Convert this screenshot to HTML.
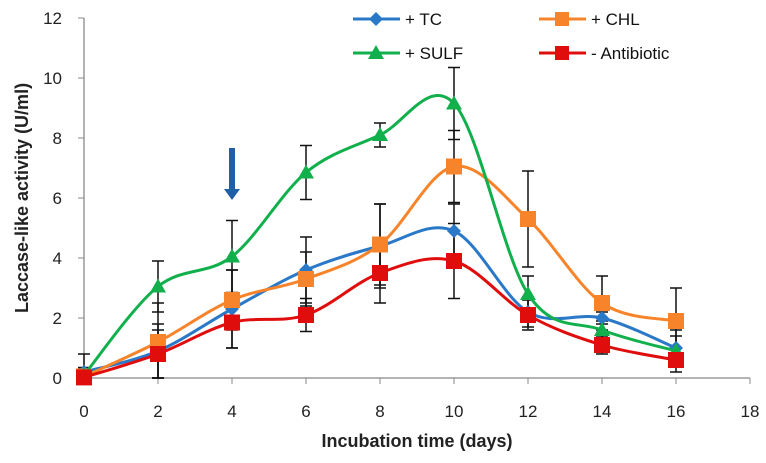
<!DOCTYPE html>
<html><head><meta charset="utf-8"><style>
body{margin:0;background:#fff;}
svg{display:block;font-family:"Liberation Sans",Arial,sans-serif;}
</style></head><body>
<svg id="c" width="766" height="463"></svg>
<script>
const days=[0,2,4,6,8,10,12,14,16];
const tc=[0.2,0.9,2.3,3.6,4.4,4.9,2.2,2.0,1.0];
const chl=[0.05,1.2,2.6,3.3,4.45,7.05,5.3,2.5,1.9];
const sulf=[0.1,3.05,4.05,6.85,8.1,9.15,2.8,1.6,0.9];
const anti=[0.02,0.8,1.85,2.1,3.5,3.9,2.1,1.1,0.6];
const tcErr=[0.6,0.9,1.3,1.1,1.4,0.9,0.5,0.2,0.6];
const chlErr=[0.3,1.3,1.0,0.9,1.35,1.2,1.6,0.9,1.1];
const sulfErr=[0.2,0.85,1.2,0.9,0.4,1.2,0.6,0.3,0.5];
const antiErr=[0.1,0.8,0.85,0.55,1.0,1.25,0.5,0.3,0.4];
const xTicks=[0,2,4,6,8,10,12,14,16,18];
const yTicks=[0,2,4,6,8,10,12];
const svg=document.getElementById('c');
const NS='http://www.w3.org/2000/svg';
const X=v=>84+v*37, Y=v=>378-v*30;
function mk(t,a,p){const e=document.createElementNS(NS,t);for(const k in a)e.setAttribute(k,a[k]);(p||svg).appendChild(e);return e;}
// axes
let ax=mk('line',{x1:X(0),y1:Y(0),x2:X(18),y2:Y(0),stroke:'#888','stroke-width':1.3});

let ay=mk('line',{x1:X(0),y1:Y(0),x2:X(0),y2:Y(12),stroke:'#888','stroke-width':1.3});

xTicks.forEach(t=>{mk('line',{x1:X(t),y1:Y(0),x2:X(t),y2:Y(0)+6,stroke:'#888'});
 const e=mk('text',{x:X(t),y:417,'text-anchor':'middle','font-size':17,fill:'#222'});e.textContent=t;
 });
yTicks.forEach(t=>{mk('line',{x1:X(0)-6,y1:Y(t),x2:X(0),y2:Y(t),stroke:'#888'});
 const e=mk('text',{x:62,y:Y(t)+6,'text-anchor':'end','font-size':17,fill:'#222'});e.textContent=t;
 });
let xt=mk('text',{x:417,y:447,'text-anchor':'middle','font-size':18,'font-weight':'bold',fill:'#222'});xt.textContent='Incubation time (days)';

let yt=mk('text',{x:0,y:0,'text-anchor':'middle','font-size':18,'font-weight':'bold',fill:'#222',transform:'translate(28,198) rotate(-90)'});yt.textContent='Laccase-like activity (U/ml)';

function smooth(vals){const p=days.map((d,i)=>[X(d),Y(vals[i])]);let s=`M${p[0][0]},${p[0][1]}`;
 for(let i=0;i<p.length-1;i++){const p0=p[i-1]||p[i],p1=p[i],p2=p[i+1],p3=p[i+2]||p2;
  const c1=[p1[0]+(p2[0]-p0[0])/6,p1[1]+(p2[1]-p0[1])/6],c2=[p2[0]-(p3[0]-p1[0])/6,p2[1]-(p3[1]-p1[1])/6];
  s+=` C${c1[0]},${c1[1]} ${c2[0]},${c2[1]} ${p2[0]},${p2[1]}`;}return s;}
function marker(g,type,cx,cy,col,s){
 if(type==='diamond')return mk('polygon',{points:`${cx},${cy-7} ${cx+7},${cy} ${cx},${cy+7} ${cx-7},${cy}`,fill:col},g);
 if(type==='tri')return mk('polygon',{points:`${cx},${cy-8} ${cx+8},${cy+6} ${cx-8},${cy+6}`,fill:col},g);
 return mk('rect',{x:cx-s,y:cy-s,width:2*s,height:2*s,fill:col},g);}
const series=[['tc',tc,tcErr,'#2a78c8','diamond',6],['chl',chl,chlErr,'#f7842a','sq',8],['sulf',sulf,sulfErr,'#12b04c','tri',8],['anti',anti,antiErr,'#e00d0d','sq',8]];
// error bars
series.forEach(([n,v,er])=>{const g=mk('g',{});
 days.forEach((d,i)=>{const x=X(d),a=Y(Math.max(0,v[i]-er[i])),b=Y(v[i]+er[i]);
  mk('line',{x1:x,y1:a,x2:x,y2:b,stroke:'#111','stroke-width':1.5},g);
  mk('line',{x1:x-6,y1:a,x2:x+6,y2:a,stroke:'#111','stroke-width':1.5},g);
  mk('line',{x1:x-6,y1:b,x2:x+6,y2:b,stroke:'#111','stroke-width':1.5},g);});});
series.forEach(([n,v,er,col,type,s])=>{const g=mk('g',{});
 mk('path',{d:smooth(v),fill:'none',stroke:col,'stroke-width':3},g);
 days.forEach((d,i)=>{const m=marker(g,type,X(d),Y(v[i]),col,s);});});
// arrow
const ar=mk('g',{});
mk('rect',{x:229,y:148,width:6,height:42,fill:'#1f5fa8'},ar);
mk('polygon',{points:'224,189 240,189 232,200',fill:'#1f5fa8'},ar);
// legend
const leg=[['+ TC','#2a78c8','diamond',353,19,6],['+ CHL','#f7842a','sq',539,19,7],['+ SULF','#12b04c','tri',353,53,8],['- Antibiotic','#e00d0d','sq',539,53,7]];
leg.forEach(([t,col,type,x,y,s])=>{const g=mk('g',{});
 mk('line',{x1:x,y1:y,x2:x+47,y2:y,stroke:col,'stroke-width':3},g);marker(g,type,x+23,y,col,s);
 const e=mk('text',{x:x+52,y:y+6,'font-size':17,fill:'#111'},g);e.textContent=t;});
</script>
</body></html>
